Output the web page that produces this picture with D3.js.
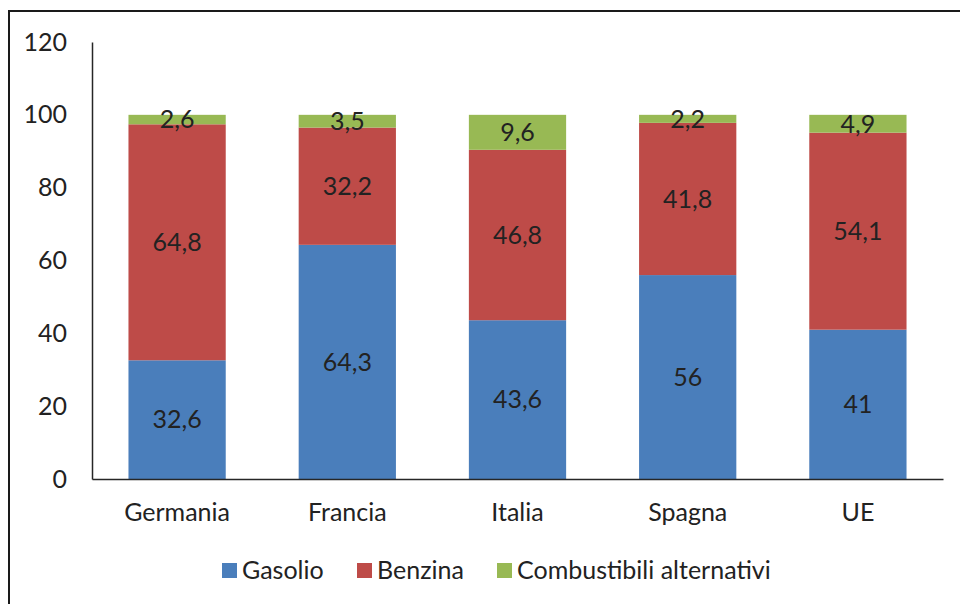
<!DOCTYPE html>
<html>
<head>
<meta charset="utf-8">
<script src="https://cdn.jsdelivr.net/npm/d3@7"></script>
<style>
  html, body { margin: 0; padding: 0; background: #fff; }
  svg text { font-family: Lato, "Open Sans", sans-serif; fill: #222; }
</style>
</head>
<body>
<svg id="chart" width="960" height="604"></svg>
<script>
// Paesi / aree
const categories = ["Germania", "Francia", "Italia", "Spagna", "UE"];
// Quote percentuali per alimentazione
const gasolio = [32.6, 64.3, 43.6, 56, 41];
const benzina = [64.8, 32.2, 46.8, 41.8, 54.1];
const alternativi = [2.6, 3.5, 9.6, 2.2, 4.9];
const seriesNames = ["Gasolio", "Benzina", "Combustibili alternativi"];
const seriesColors = ["#4a7ebb", "#be4b48", "#98b954"];
const yTicks = [0, 20, 40, 60, 80, 100, 120];

const svg = d3.select("#chart");
const W = 960, H = 604;
const margin = { left: 92, right: 17, top: 42, bottom: 125 };
const FS = 25;

// outer frame
svg.append("rect")
  .attr("x", 9).attr("y", 11)
  .attr("width", W).attr("height", H)
  .attr("fill", "none").attr("stroke", "#1a1a1a").attr("stroke-width", 2);

const x = d3.scaleBand()
  .domain(categories)
  .range([margin.left, W - margin.right])
  .paddingInner(0.75 / 1.75)
  .paddingOuter(0.75 / 3.5);

const y = d3.scaleLinear()
  .domain([0, 120])
  .range([H - margin.bottom, margin.top]);

const rows = categories.map((c, i) => ({
  cat: c, Gasolio: gasolio[i], Benzina: benzina[i], "Combustibili alternativi": alternativi[i]
}));
const stacked = d3.stack().keys(seriesNames)(rows);

const fmt = v => String(v).replace(".", ",");

const layers = svg.append("g").selectAll("g")
  .data(stacked).join("g")
  .attr("fill", (d, i) => seriesColors[i]);

layers.selectAll("rect")
  .data(d => d).join("rect")
  .attr("x", d => x(d.data.cat))
  .attr("width", x.bandwidth())
  .attr("y", d => y(d[1]))
  .attr("height", d => y(d[0]) - y(d[1]));

// data labels centred in each segment
const labels = svg.append("g");
stacked.forEach(layer => {
  layer.forEach(d => {
    labels.append("text")
      .attr("x", x(d.data.cat) + x.bandwidth() / 2)
      .attr("y", (y(d[0]) + y(d[1])) / 2)
      .attr("dy", "0.35em")
      .attr("text-anchor", "middle")
      .attr("font-size", FS)
      .text(fmt(+(d[1] - d[0]).toFixed(1)));
  });
});

// y axis
const yAxis = svg.append("g")
  .attr("transform", `translate(${margin.left},0)`)
  .call(d3.axisLeft(y).tickValues(yTicks).tickSize(0).tickPadding(25));
yAxis.select(".domain").attr("stroke", "#262626").attr("stroke-width", 1.5);
yAxis.selectAll("text").attr("font-size", FS).attr("font-family", null);

// x axis
const xAxis = svg.append("g")
  .attr("transform", `translate(0,${H - margin.bottom})`)
  .call(d3.axisBottom(x).tickSize(0).tickPadding(24));
xAxis.select(".domain").attr("stroke", "#262626").attr("stroke-width", 1.5);
xAxis.selectAll("text").attr("font-size", FS).attr("font-family", null);

// legend
const legendItems = [
  { name: seriesNames[0], color: seriesColors[0], x: 222 },
  { name: seriesNames[1], color: seriesColors[1], x: 357 },
  { name: seriesNames[2], color: seriesColors[2], x: 497 }
];
const legend = svg.append("g");
legendItems.forEach(it => {
  legend.append("rect")
    .attr("x", it.x).attr("y", 563)
    .attr("width", 15).attr("height", 15)
    .attr("fill", it.color);
  legend.append("text")
    .attr("x", it.x + 20).attr("y", 570)
    .attr("dy", "0.35em")
    .attr("font-size", FS)
    .text(it.name);
});
</script>
</body>
</html>
